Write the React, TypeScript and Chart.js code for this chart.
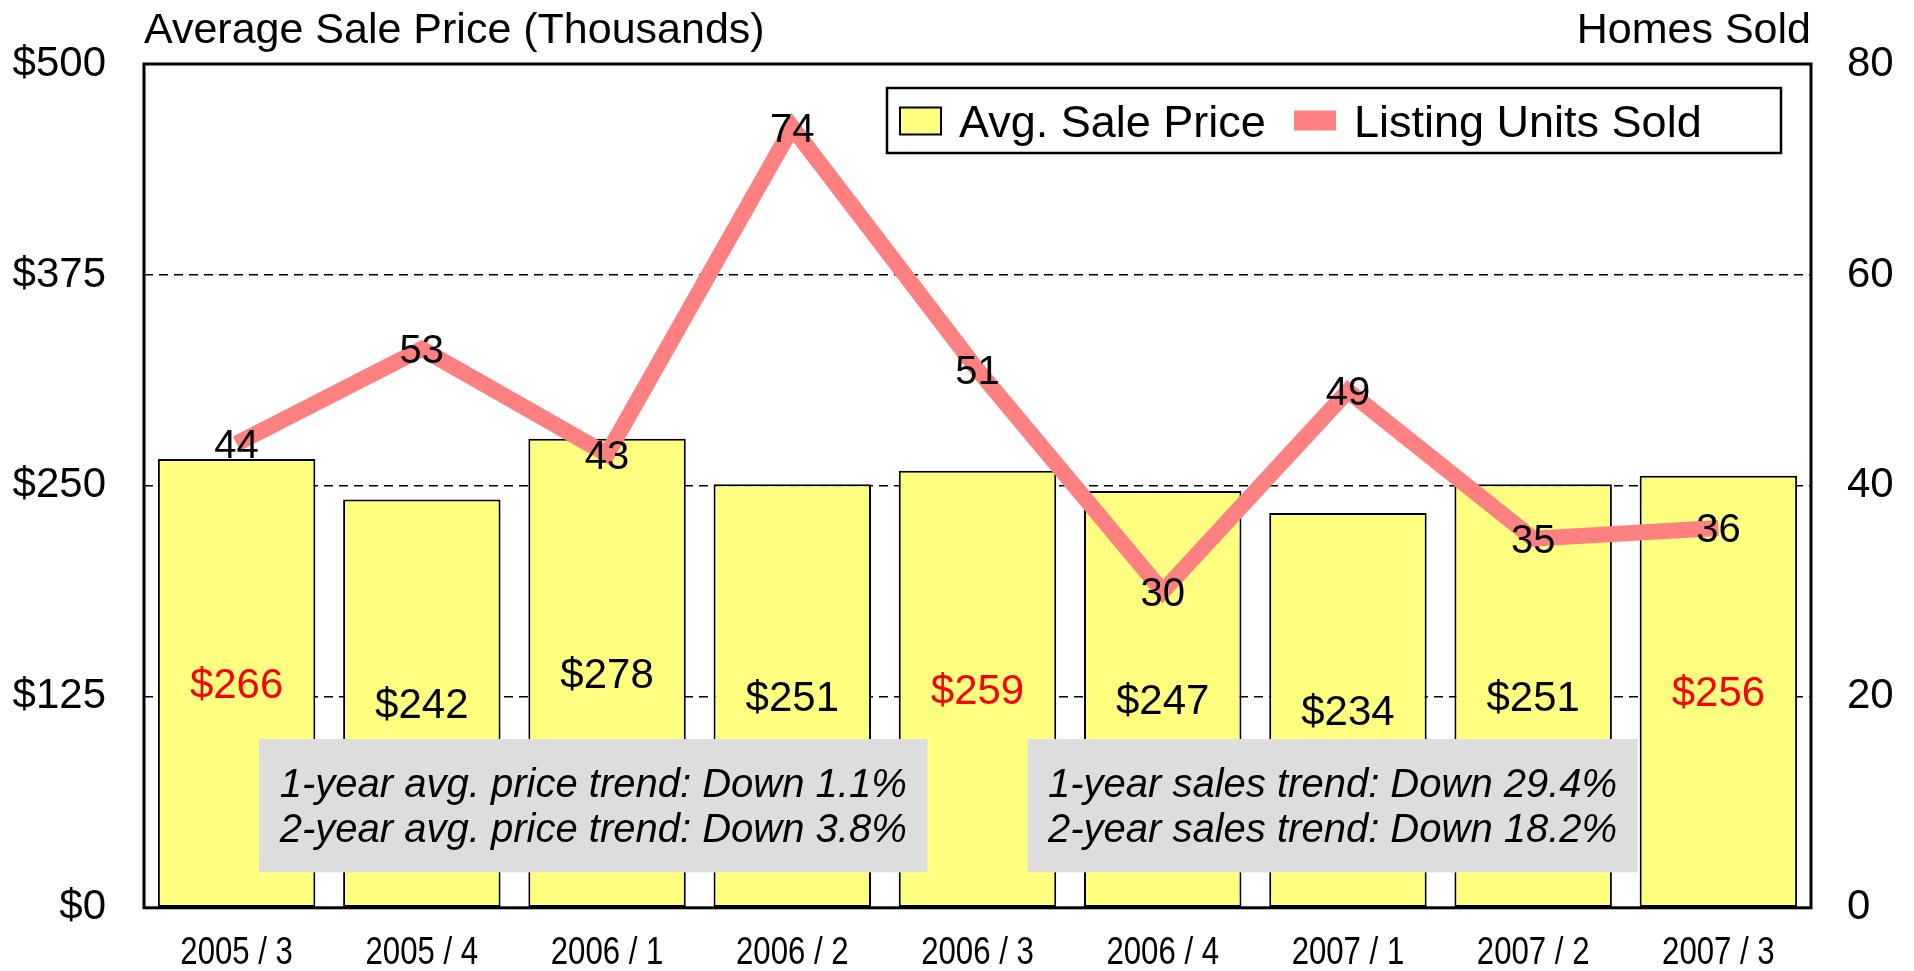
import React, { useEffect, useRef } from 'react';
import { Chart, registerables } from 'chart.js';

Chart.register(...registerables);

const categories = ['2005 / 3', '2005 / 4', '2006 / 1', '2006 / 2', '2006 / 3', '2006 / 4', '2007 / 1', '2007 / 2', '2007 / 3'];
const avgPrice = [266, 242, 278, 251, 259, 247, 234, 251, 256];
const unitsSold = [44, 53, 43, 74, 51, 30, 49, 35, 36];
const priceLabelColors = ['#FF0000', '#000000', '#000000', '#000000', '#FF0000', '#000000', '#000000', '#000000', '#FF0000'];
const priceTickStep = 125;
const priceMax = 500;
const unitsTickStep = 20;
const unitsMax = 80;
const priceNotes = ['1-year avg. price trend: Down 1.1%', '2-year avg. price trend: Down 3.8%'];
const salesNotes = ['1-year sales trend: Down 29.4%', '2-year sales trend: Down 18.2%'];
const leftTitle = 'Average Sale Price (Thousands)';
const rightTitle = 'Homes Sold';

const SANS = '"Liberation Sans", Arial, Helvetica, sans-serif';
const BAR_COLOR = '#FFFF80';
const LINE_COLOR = '#FF8080';

function textAt(ctx: CanvasRenderingContext2D, text: string, x: number, cy: number, size: number, align: CanvasTextAlign, color = '#000', style = '') {
  ctx.font = `${style} ${size}px ${SANS}`;
  ctx.fillStyle = color;
  ctx.textAlign = align;
  ctx.textBaseline = 'alphabetic';
  ctx.fillText(text, x, cy + 0.358 * size);
}

const customPlugin = {
  id: 'customDraw',
  afterDatasetsDraw(chart: any) {
    const ctx: CanvasRenderingContext2D = chart.ctx;
    const { left, right, top, bottom } = chart.chartArea;
    const w = right - left;
    const h = bottom - top;
    ctx.save();

    // annotation boxes
    const boxes = [
      { x0: 0.069, x1: 0.470, lines: priceNotes },
      { x0: 0.530, x1: 0.896, lines: salesNotes },
    ];
    const yS = chart.scales.y;
    const by0 = yS.getPixelForValue(100);
    const by1 = yS.getPixelForValue(21);
    boxes.forEach((b) => {
      const x0 = left + b.x0 * w;
      const x1 = left + b.x1 * w;
      ctx.fillStyle = '#DDDDDD';
      ctx.fillRect(x0, by0, x1 - x0, by1 - by0);
      const cx = (x0 + x1) / 2;
      textAt(ctx, b.lines[0], cx, by0 + 44, 40, 'center', '#000', 'italic');
      textAt(ctx, b.lines[1], cx, by0 + 89, 40, 'center', '#000', 'italic');
    });

    // frame
    ctx.strokeStyle = '#000';
    ctx.lineWidth = 3;
    ctx.strokeRect(left, top, w, h);

    // bar labels
    const barMeta = chart.getDatasetMeta(0);
    barMeta.data.forEach((bar: any, i: number) => {
      const p = bar.getProps(['x', 'y', 'base'], true);
      textAt(ctx, '$' + avgPrice[i], p.x, (p.y + p.base) / 2, 42, 'center', priceLabelColors[i]);
    });

    // line labels
    const lineMeta = chart.getDatasetMeta(1);
    lineMeta.data.forEach((pt: any, i: number) => {
      const p = pt.getProps(['x', 'y'], true);
      textAt(ctx, String(unitsSold[i]), p.x, p.y, 40, 'center', '#000');
    });
    ctx.restore();
  },
  afterDraw(chart: any) {
    const ctx: CanvasRenderingContext2D = chart.ctx;
    const { left, right, top, bottom } = chart.chartArea;
    ctx.save();
    // axis titles
    ctx.font = `43px ${SANS}`;
    ctx.fillStyle = '#000';
    ctx.textBaseline = 'alphabetic';
    ctx.textAlign = 'left';
    ctx.fillText(leftTitle, left, top - 21);
    ctx.textAlign = 'right';
    ctx.fillText(rightTitle, right, top - 21);

    // condensed category labels
    const xS = chart.scales.x;
    categories.forEach((c, i) => {
      const px = xS.getPixelForValue(i);
      ctx.save();
      ctx.translate(px, bottom + 43);
      ctx.scale(0.82, 1);
      textAt(ctx, c, 0, 0, 38, 'center', '#000');
      ctx.restore();
    });

    // legend
    const ds = chart.data.datasets;
    const bx1 = right - 30;
    const bx0 = bx1 - 894;
    const byTop = top + 24;
    const bh = 65;
    ctx.fillStyle = '#FFFFFF';
    ctx.fillRect(bx0, byTop, bx1 - bx0, bh);
    ctx.strokeStyle = '#000';
    ctx.lineWidth = 2.5;
    ctx.strokeRect(bx0, byTop, bx1 - bx0, bh);
    const cy = byTop + bh / 2;
    ctx.fillStyle = ds[0].backgroundColor;
    ctx.fillRect(bx0 + 13, cy - 13, 41, 27);
    ctx.lineWidth = 2;
    ctx.strokeRect(bx0 + 13, cy - 13, 41, 27);
    textAt(ctx, ds[0].label, bx0 + 72, cy, 45, 'left');
    ctx.fillStyle = ds[1].borderColor;
    ctx.fillRect(bx0 + 407, cy - 10, 42, 20);
    textAt(ctx, ds[1].label, bx0 + 467, cy, 45, 'left');
    ctx.restore();
  },
};

export default function App() {
  const canvasRef = useRef<HTMLCanvasElement | null>(null);

  useEffect(() => {
    const canvas = canvasRef.current;
    if (!canvas) return;
    const chart = new Chart(canvas, {
      type: 'bar',
      data: {
        labels: categories,
        datasets: [
          {
            type: 'bar',
            label: 'Avg. Sale Price',
            data: avgPrice,
            backgroundColor: BAR_COLOR,
            borderColor: '#000000',
            borderWidth: 2,
            borderSkipped: false,
            yAxisID: 'y',
            order: 2,
            barPercentage: 0.85,
            categoryPercentage: 1,
          } as any,
          {
            type: 'line',
            label: 'Listing Units Sold',
            data: unitsSold,
            borderColor: LINE_COLOR,
            backgroundColor: LINE_COLOR,
            borderWidth: 16,
            pointRadius: 0,
            tension: 0,
            borderJoinStyle: 'miter',
            yAxisID: 'y1',
            order: 1,
          } as any,
        ],
      },
      options: {
        responsive: false,
        animation: false,
        devicePixelRatio: 1,
        layout: { padding: { top: 64, left: 0, right: 0, bottom: 0 } },
        plugins: {
          legend: { display: false },
          tooltip: { enabled: false },
          title: { display: false },
        },
        scales: {
          x: {
            type: 'category',
            offset: true,
            grid: { display: false, drawTicks: false },
            border: { display: false },
            ticks: { display: false },
            afterFit: (s: any) => { s.height = 63; },
          },
          y: {
            position: 'left',
            min: 0,
            max: priceMax,
            grid: { display: true, color: '#000000', lineWidth: 1.5, drawTicks: false },
            border: { display: false, dash: [9, 6] },
            ticks: {
              stepSize: priceTickStep,
              color: '#000',
              padding: 38,
              font: { family: SANS, size: 42 },
              callback: (v: any) => '$' + v,
            },
            afterFit: (s: any) => { s.width = 144; },
          },
          y1: {
            position: 'right',
            min: 0,
            max: unitsMax,
            grid: { display: false, drawTicks: false },
            border: { display: false },
            ticks: {
              stepSize: unitsTickStep,
              color: '#000',
              padding: 36,
              font: { family: SANS, size: 42 },
            },
            afterFit: (s: any) => { s.width = 103; },
          },
        },
      },
      plugins: [customPlugin],
    });
    return () => chart.destroy();
  }, []);

  return (
    <div style={{ position: 'fixed', left: 0, top: 0, width: 1914, height: 971, background: '#fff' }}>
      <canvas ref={canvasRef} width={1914} height={971} style={{ display: 'block' }} />
    </div>
  );
}
